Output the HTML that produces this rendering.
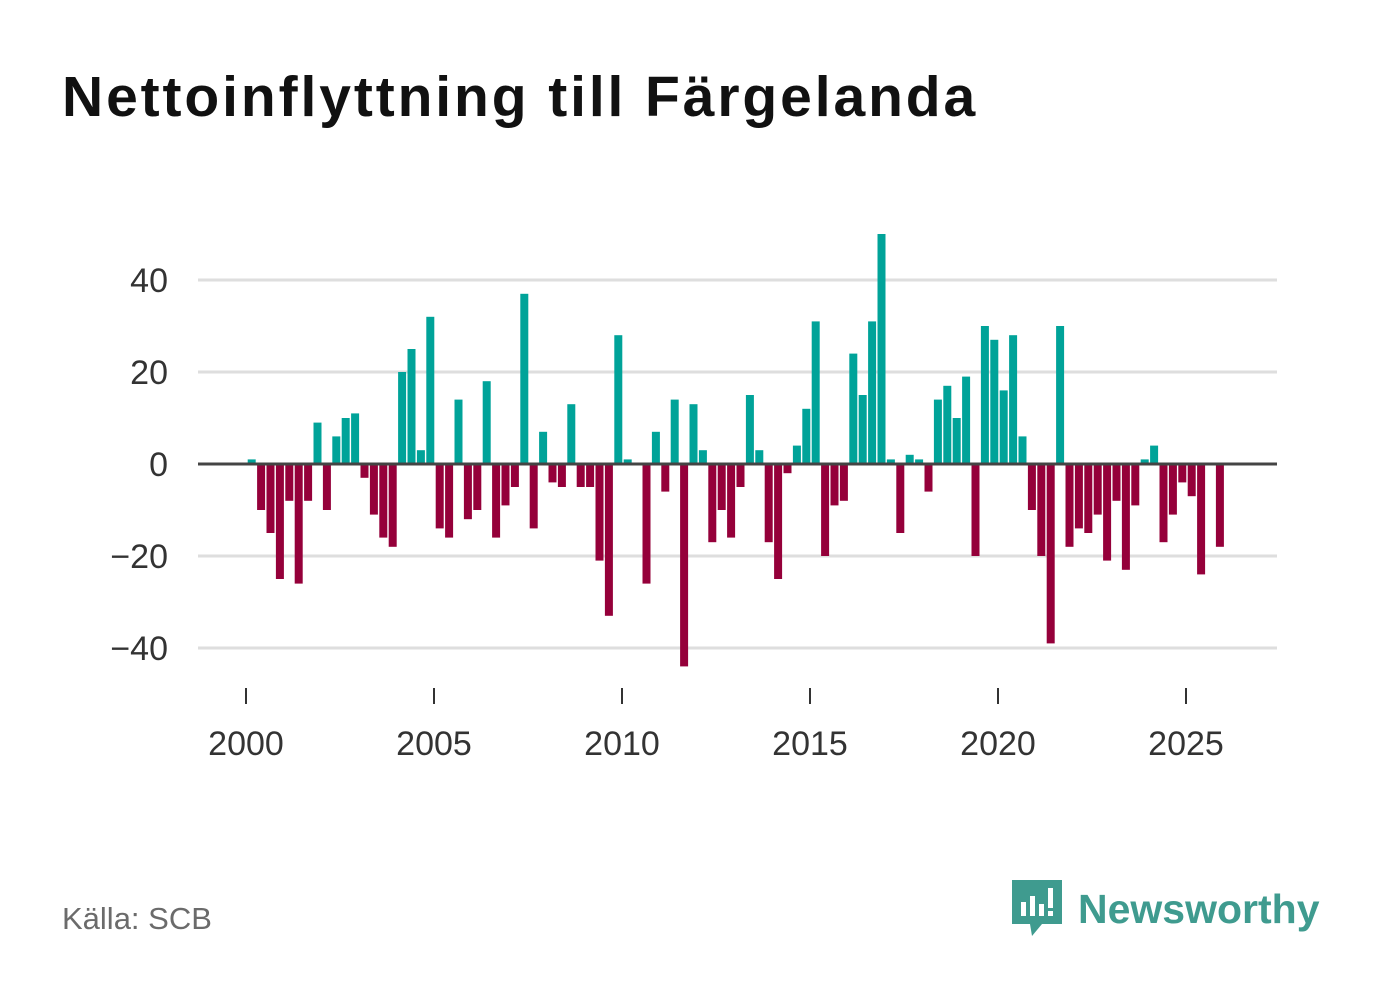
<!DOCTYPE html>
<html><head><meta charset="utf-8"><style>
body{margin:0;background:#fff;width:1382px;height:999px;overflow:hidden;font-family:"Liberation Sans",sans-serif}
#title{position:absolute;left:62px;top:64px;font-size:57px;font-weight:bold;color:#111;margin:0;letter-spacing:2.9px}
#src{position:absolute;left:62px;top:901px;font-size:31px;color:#6b6b6b}
#logo{position:absolute;left:1012px;top:880px;display:flex;align-items:center}
#logo span{font-size:41px;font-weight:bold;color:#3f9b8f;margin-left:16px}
</style></head><body>
<h1 id="title">Nettoinflyttning till Färgelanda</h1>
<svg id="chart" width="1382" height="999" style="position:absolute;left:0;top:0"></svg>
<div id="src">Källa: SCB</div>
<div id="logo">
<svg width="50" height="58"><path d="M0 0H50V44H30L20 56L18 44H0Z" fill="#3f9b8f"/><rect x="9" y="22" width="5" height="14" fill="#fff"/><rect x="18" y="16" width="5" height="20" fill="#fff"/><rect x="27" y="24" width="5" height="12" fill="#fff"/><rect x="36" y="8" width="5" height="20" fill="#fff"/><rect x="36" y="31" width="5" height="5" fill="#fff"/></svg>
<span>Newsworthy</span></div>
<script>
const values=[1,-10,-15,-25,-8,-26,-8,9,-10,6,10,11,-3,-11,-16,-18,20,25,3,32,-14,-16,14,-12,-10,18,-16,-9,-5,37,-14,7,-4,-5,13,-5,-5,-21,-33,28,1,0,-26,7,-6,14,-44,13,3,-17,-10,-16,-5,15,3,-17,-25,-2,4,12,31,-20,-9,-8,24,15,31,50,1,-15,2,1,-6,14,17,10,19,-20,30,27,16,28,6,-10,-20,-39,30,-18,-14,-15,-11,-21,-8,-23,-9,1,4,-17,-11,-4,-7,-24,0,-18];
const startYear=2000;
const yTicks=[-40,-20,0,20,40];
const yTickLabels=["−40","−20","0","20","40"];
const xTicks=[2000,2005,2010,2015,2020,2025];
const NS="http://www.w3.org/2000/svg",svg=document.getElementById('chart');
const x=t=>246+(t-2000)*37.6;
const y=v=>464-v*4.6;
function mk(tag,a){const e=document.createElementNS(NS,tag);for(const k in a)e.setAttribute(k,a[k]);svg.appendChild(e);return e;}
yTicks.forEach((v,i)=>{
 if(v!==0){const g=mk('line',{x1:198,x2:1277,y1:y(v),y2:y(v),stroke:'#dedede','stroke-width':3});
 
 }
 const t=mk('text',{x:168,y:y(v)+12,'text-anchor':'end','font-size':34,fill:'#333','font-family':'Liberation Sans, sans-serif'});
 t.textContent=yTickLabels[i];
 
 
});
values.forEach((v,i)=>{
 const cx=x(startYear+i/4+0.125)+1;
 const r=mk('rect',{x:cx-4,y:v>=0?y(v):y(0),width:8,height:Math.abs(v)*4.6,fill:v>=0?'#00a399':'#95003a'});
 
 
});
const z=mk('line',{x1:198,x2:1277,y1:y(0),y2:y(0),stroke:'#444','stroke-width':3});


xTicks.forEach(t=>{
 const l=mk('line',{x1:x(t),x2:x(t),y1:688,y2:704,stroke:'#333','stroke-width':2});
 
 
 const tx=mk('text',{x:x(t),y:755,'text-anchor':'middle','font-size':34,fill:'#333','font-family':'Liberation Sans, sans-serif'});
 tx.textContent=t;
 
 
});
</script>
</body></html>
